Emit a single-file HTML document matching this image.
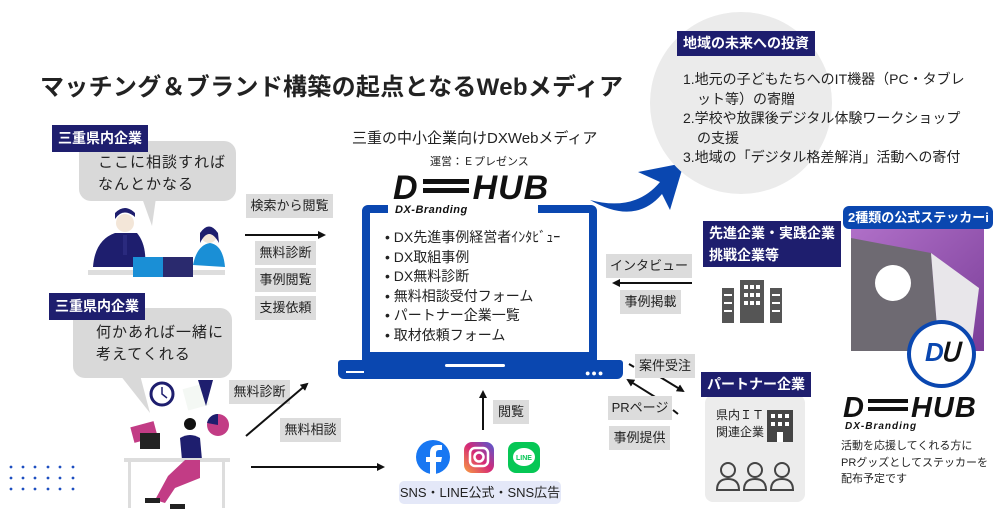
<!DOCTYPE html>
<html><head><meta charset="utf-8"><style>
*{margin:0;padding:0;box-sizing:border-box}
body{width:1000px;height:520px;background:#fff;position:relative;overflow:hidden;font-family:"Liberation Sans","Noto Sans CJK JP",sans-serif;color:#222}
.a{position:absolute;white-space:nowrap}
.nv{background:#1e1e6e;color:#fff;font-weight:bold;font-size:14px;padding:0 6px;line-height:27px}
.tag{position:absolute;background:#dcdcdc;font-size:13px;text-align:center;line-height:24px;white-space:nowrap}
.bub{position:absolute;background:#d9d9d9;border-radius:12px}
.logo{font-style:italic;font-weight:900;color:#111;letter-spacing:1px}
</style></head><body>

<div class="a" style="left:40px;top:67px;font-size:24px;font-weight:bold;letter-spacing:0.3px">マッチング＆ブランド構築の起点となるWebメディア</div>

<!-- top-left group -->
<div class="bub" style="left:79px;top:141px;width:157px;height:60px"></div>
<svg class="a" style="left:140px;top:198px" width="20" height="30"><polygon points="2,0 16,0 12,28" fill="#d9d9d9"/></svg>
<div class="a nv" style="left:52px;top:125px">三重県内企業</div>
<div class="a" style="left:98px;top:152px;font-size:15px;line-height:22px;letter-spacing:1px">ここに相談すれば<br>なんとかなる</div>
<svg class="a" style="left:85px;top:205px" width="145" height="75">
<rect x="3" y="65" width="137" height="5" fill="#ddd"/>
<path d="M8 62 Q10 35 30 28 L52 28 Q62 40 60 62Z" fill="#1e1e6e"/>
<circle cx="40" cy="18" r="9" fill="#f3e6d8"/><path d="M30 14 Q38 2 50 12 L50 8 Q40 -2 30 8Z" fill="#1e1e6e"/>
<rect x="38" y="30" width="4" height="20" fill="#2a2a7e"/>
<rect x="48" y="52" width="30" height="20" fill="#1a8fd6"/><rect x="78" y="52" width="30" height="20" fill="#2a2a6e"/>
<path d="M108 60 Q112 40 125 38 Q138 40 140 62Z" fill="#1a8fd6"/>
<circle cx="124" cy="30" r="8" fill="#f3e6d8"/><path d="M115 28 Q124 15 133 28 L134 38 Q124 20 115 38Z" fill="#1e1e6e"/>
</svg>

<!-- second group -->
<div class="bub" style="left:73px;top:308px;width:159px;height:70px"></div>
<svg class="a" style="left:115px;top:375px" width="40" height="40"><polygon points="5,0 25,0 35,38" fill="#d9d9d9"/></svg>
<div class="a nv" style="left:49px;top:293px">三重県内企業</div>
<div class="a" style="left:96px;top:322px;font-size:15px;line-height:22px;letter-spacing:1px">何かあれば一緒に<br>考えてくれる</div>
<svg class="a" style="left:110px;top:378px" width="120" height="135">
<circle cx="52" cy="16" r="11" fill="#fff" stroke="#1e1e6e" stroke-width="3"/>
<path d="M52 9 L52 16 L57 20" stroke="#1e1e6e" stroke-width="1.5" fill="none"/>
<rect x="75" y="8" width="22" height="22" fill="#f4f8f4" transform="rotate(-15 86 19)"/>
<polygon points="88,2 103,2 96,28" fill="#1e1e6e"/>
<rect x="22" y="46" width="24" height="16" fill="#c23c85" transform="rotate(-15 34 54)"/>
<circle cx="108" cy="47" r="11" fill="#c23c85"/><path d="M108 47 L108 36 A11 11 0 0 0 97 45Z" fill="#1e1e6e"/>
<circle cx="80" cy="46" r="6" fill="#111"/>
<path d="M70 60 Q80 54 90 60 L92 82 L72 82Z" fill="#1e1e6e"/>
<rect x="30" y="55" width="20" height="16" fill="#222"/>
<rect x="14" y="80" width="106" height="4" fill="#ddd"/>
<rect x="18" y="84" width="3" height="46" fill="#ddd"/><rect x="112" y="84" width="3" height="46" fill="#ddd"/>
<path d="M75 82 L90 82 L90 100 L65 110 L55 125 L45 122 L58 98Z" fill="#c23c85"/>
<rect x="35" y="120" width="15" height="5" fill="#222"/><rect x="60" y="126" width="15" height="5" fill="#222"/>
</svg>

<!-- dots -->
<svg class="a" style="left:8px;top:464px" width="70" height="30">
<g fill="#1e4fc0">
<circle cx="3" cy="3" r="1.4"/><circle cx="15" cy="3" r="1.4"/><circle cx="27" cy="3" r="1.4"/><circle cx="40" cy="3" r="1.4"/><circle cx="52" cy="3" r="1.4"/><circle cx="65" cy="3" r="1.4"/>
<circle cx="3" cy="14" r="1.4"/><circle cx="15" cy="14" r="1.4"/><circle cx="27" cy="14" r="1.4"/><circle cx="40" cy="14" r="1.4"/><circle cx="52" cy="14" r="1.4"/><circle cx="65" cy="14" r="1.4"/>
<circle cx="3" cy="25" r="1.4"/><circle cx="15" cy="25" r="1.4"/><circle cx="27" cy="25" r="1.4"/><circle cx="40" cy="25" r="1.4"/><circle cx="52" cy="25" r="1.4"/><circle cx="65" cy="25" r="1.4"/>
</g></svg>

<!-- left tags and arrows -->
<div class="tag" style="left:246px;top:194px;width:87px">検索から閲覧</div>
<div class="tag" style="left:255px;top:241px;width:61px">無料診断</div>
<div class="tag" style="left:255px;top:268px;width:61px">事例閲覧</div>
<div class="tag" style="left:255px;top:296px;width:61px">支援依頼</div>
<div class="tag" style="left:229px;top:380px;width:61px">無料診断</div>
<div class="tag" style="left:280px;top:418px;width:61px">無料相談</div>
<div class="tag" style="left:493px;top:400px;width:36px">閲覧</div>

<svg class="a" style="left:0;top:0" width="1000" height="520">
<defs><marker id="ah" markerWidth="8" markerHeight="8" refX="6" refY="4" orient="auto" markerUnits="userSpaceOnUse"><path d="M0 0 L8 4 L0 8Z" fill="#111"/></marker></defs>
<g stroke="#111" stroke-width="2" fill="none">
<line x1="245" y1="235" x2="324" y2="235" marker-end="url(#ah)"/>
<line x1="246" y1="436" x2="307" y2="384" marker-end="url(#ah)"/>
<line x1="251" y1="467" x2="383" y2="467" marker-end="url(#ah)"/>
<line x1="483" y1="430" x2="483" y2="392" marker-end="url(#ah)"/>
<line x1="692" y1="283" x2="614" y2="283" marker-end="url(#ah)"/>
<line x1="642" y1="366" x2="683" y2="391" marker-end="url(#ah)"/>
<line x1="668" y1="405" x2="628" y2="380" marker-end="url(#ah)"/>
<line x1="629" y1="364" x2="634" y2="367"/>
<line x1="673" y1="410" x2="678" y2="414"/>
</g>
<!-- big blue arrow -->
<path d="M590 200 Q635 212 660 182 L638 172 L684 163 L670 210 L662 194 Q635 226 590 200Z" fill="#0a47b0"/>
</svg>

<!-- laptop -->
<div class="a" style="left:352px;top:127px;font-size:15px">三重の中小企業向けDXWebメディア</div>
<div class="a" style="left:430px;top:153px;font-size:11px">運営：Ｅプレゼンス</div>
<div class="a" style="left:362px;top:205px;width:235px;height:155px;border:8px solid #0a47b0;border-top-width:8px;border-radius:6px 6px 0 0"></div>
<div class="a" style="left:388px;top:198px;width:150px;height:22px;background:#fff"></div>
<div class="a" style="left:338px;top:360px;width:285px;height:19px;background:#0a47b0;border-radius:3px 3px 6px 6px"></div>
<div class="a" style="left:445px;top:364px;width:60px;height:3px;background:#fff;border-radius:2px"></div>
<div class="a" style="left:346px;top:371px;width:18px;height:2px;background:#fff"></div>
<div class="a" style="left:585px;top:368px;font-size:9px;color:#fff;letter-spacing:1px">●●●</div>
<div class="a logo" style="left:393px;top:170px;font-size:34px;line-height:36px">D<span style="display:inline-block;width:46px;height:14px;vertical-align:middle;position:relative;top:-4px;border-top:5px solid #111;border-bottom:5px solid #111;margin:0 4px"></span>HUB</div>
<div class="a logo" style="left:395px;top:204px;font-size:11px;letter-spacing:0.5px">DX-Branding</div>
<div class="a" style="left:385px;top:228px;font-size:14px;line-height:19.5px">
• DX先進事例経営者ｲﾝﾀﾋﾞｭｰ<br>• DX取組事例<br>• DX無料診断<br>• 無料相談受付フォーム<br>• パートナー企業一覧<br>• 取材依頼フォーム</div>

<!-- SNS -->
<svg class="a" style="left:414px;top:438px" width="130" height="40">
<circle cx="19" cy="19" r="17" fill="#1877f2"/>
<path d="M22 37 L22 24 L27 24 L28 19 L22 19 L22 15 Q22 12 25 12 L28 12 L28 7 L24 7 Q16 7 16 15 L16 19 L12 19 L12 24 L16 24 L16 37Z" fill="#fff"/>
<defs><linearGradient id="ig" x1="0" y1="1" x2="1" y2="0"><stop offset="0" stop-color="#f9a03f"/><stop offset=".5" stop-color="#d62976"/><stop offset="1" stop-color="#4f5bd5"/></linearGradient></defs>
<rect x="50" y="4" width="30" height="31" rx="8" fill="url(#ig)"/>
<rect x="56" y="10" width="18" height="18" rx="5" fill="none" stroke="#fff" stroke-width="2.5"/>
<circle cx="65" cy="19" r="4.5" fill="none" stroke="#fff" stroke-width="2.5"/>
<rect x="94" y="4" width="32" height="31" rx="8" fill="#06c755"/>
<ellipse cx="110" cy="19" rx="11" ry="9" fill="#fff"/>
<text x="110" y="22" font-size="7" font-weight="bold" fill="#06c755" text-anchor="middle" font-family="Liberation Sans">LINE</text>
</svg>
<div class="a" style="left:399px;top:481px;width:162px;height:23px;background:#e4e8f8;border-radius:5px;font-size:13px;text-align:center;line-height:23px">SNS・LINE公式・SNS広告</div>

<!-- right top circle -->
<div class="a" style="left:650px;top:12px;width:182px;height:182px;border-radius:50%;background:#ebebeb"></div>
<div class="a nv" style="left:677px;top:31px;line-height:25px">地域の未来への投資</div>
<div class="a" style="left:683px;top:70px;font-size:14px;line-height:19.5px">1.地元の子どもたちへのIT機器（PC・タブレ<br>　ット等）の寄贈<br>2.学校や放課後デジタル体験ワークショップ<br>　の支援<br>3.地域の「デジタル格差解消」活動への寄付</div>

<!-- right middle -->
<div class="tag" style="left:606px;top:254px;width:86px">インタビュー</div>
<div class="tag" style="left:620px;top:290px;width:61px">事例掲載</div>
<div class="a nv" style="left:703px;top:221px;line-height:22px;padding:1px 6px">先進企業・実践企業<br>挑戦企業等</div>
<svg class="a" style="left:722px;top:280px" width="60" height="43" fill="#555">
<rect x="0" y="8" width="12" height="35"/><rect x="18" y="0" width="24" height="43"/><rect x="48" y="8" width="12" height="35"/>
<g fill="#fff"><rect x="22" y="5" width="4" height="4"/><rect x="28" y="5" width="4" height="4"/><rect x="34" y="5" width="4" height="4"/>
<rect x="22" y="13" width="4" height="4"/><rect x="28" y="13" width="4" height="4"/><rect x="34" y="13" width="4" height="4"/>
<rect x="22" y="21" width="4" height="4"/><rect x="28" y="21" width="4" height="4"/><rect x="34" y="21" width="4" height="4"/>
<rect x="2" y="14" width="8" height="2"/><rect x="2" y="22" width="8" height="2"/><rect x="2" y="30" width="8" height="2"/>
<rect x="50" y="14" width="8" height="2"/><rect x="50" y="22" width="8" height="2"/><rect x="50" y="30" width="8" height="2"/></g></svg>

<div class="tag" style="left:635px;top:354px;width:60px">案件受注</div>
<div class="tag" style="left:608px;top:396px;width:64px">PRページ</div>
<div class="tag" style="left:609px;top:426px;width:61px">事例提供</div>
<div class="a" style="left:705px;top:395px;width:100px;height:107px;background:#ececec;border-radius:8px"></div>
<div class="a nv" style="left:701px;top:372px;line-height:25px">パートナー企業</div>
<div class="a" style="left:716px;top:407px;font-size:12px;line-height:17px">県内ＩＴ<br>関連企業</div>
<svg class="a" style="left:767px;top:410px" width="28" height="32" fill="#444"><rect x="0" y="0" width="26" height="32"/><g fill="#fff"><rect x="4" y="4" width="4" height="4"/><rect x="11" y="4" width="4" height="4"/><rect x="18" y="4" width="4" height="4"/><rect x="4" y="12" width="4" height="4"/><rect x="11" y="12" width="4" height="4"/><rect x="18" y="12" width="4" height="4"/><rect x="10" y="22" width="6" height="10"/></g></svg>
<svg class="a" style="left:716px;top:460px" width="80" height="32" fill="none" stroke="#444" stroke-width="2">
<circle cx="12" cy="10" r="7"/><path d="M1 30 Q1 19 12 19 Q23 19 23 30Z"/>
<circle cx="39" cy="10" r="7"/><path d="M28 30 Q28 19 39 19 Q50 19 50 30Z"/>
<circle cx="66" cy="10" r="7"/><path d="M55 30 Q55 19 66 19 Q77 19 77 30Z"/>
</svg>

<!-- sticker -->
<svg class="a" style="left:851px;top:228px" width="133" height="123">
<defs><linearGradient id="pp" x1="0" y1="0" x2="1" y2="1"><stop offset="0" stop-color="#b070c8"/><stop offset="1" stop-color="#7a3d98"/></linearGradient></defs>
<rect width="133" height="123" fill="url(#pp)"/>
<path d="M0 10 L80 25 L88 123 L0 123Z" fill="#6e6a72"/>
<path d="M80 25 L128 60 L120 123 L88 123Z" fill="#e8e6ea"/>
<circle cx="42" cy="55" r="18" fill="#fff"/>
</svg>
<div class="a" style="left:843px;top:206px;width:150px;height:23px;background:#0a47b0;border-radius:6px;color:#fff;font-weight:bold;font-size:13px;line-height:23px;padding-left:5px">2種類の公式ステッカーi</div>
<div class="a" style="left:907px;top:320px;width:69px;height:68px;border-radius:50%;background:#fff;border:4px solid #0a47b0"></div>
<div class="a logo" style="left:925px;top:337px;font-size:26px;color:#0a47b0;letter-spacing:-3px">D<span style="color:#111">Ս</span></div>
<div class="a logo" style="left:843px;top:393px;font-size:29px;line-height:30px">D<span style="display:inline-block;width:40px;height:12px;vertical-align:middle;position:relative;top:-4px;border-top:4px solid #111;border-bottom:4px solid #111;margin:0 3px"></span>HUB</div>
<div class="a logo" style="left:845px;top:421px;font-size:10px">DX-Branding</div>
<div class="a" style="left:841px;top:438px;font-size:11px;line-height:16.5px">活動を応援してくれる方に<br>PRグッズとしてステッカーを<br>配布予定です</div>

</body></html>
